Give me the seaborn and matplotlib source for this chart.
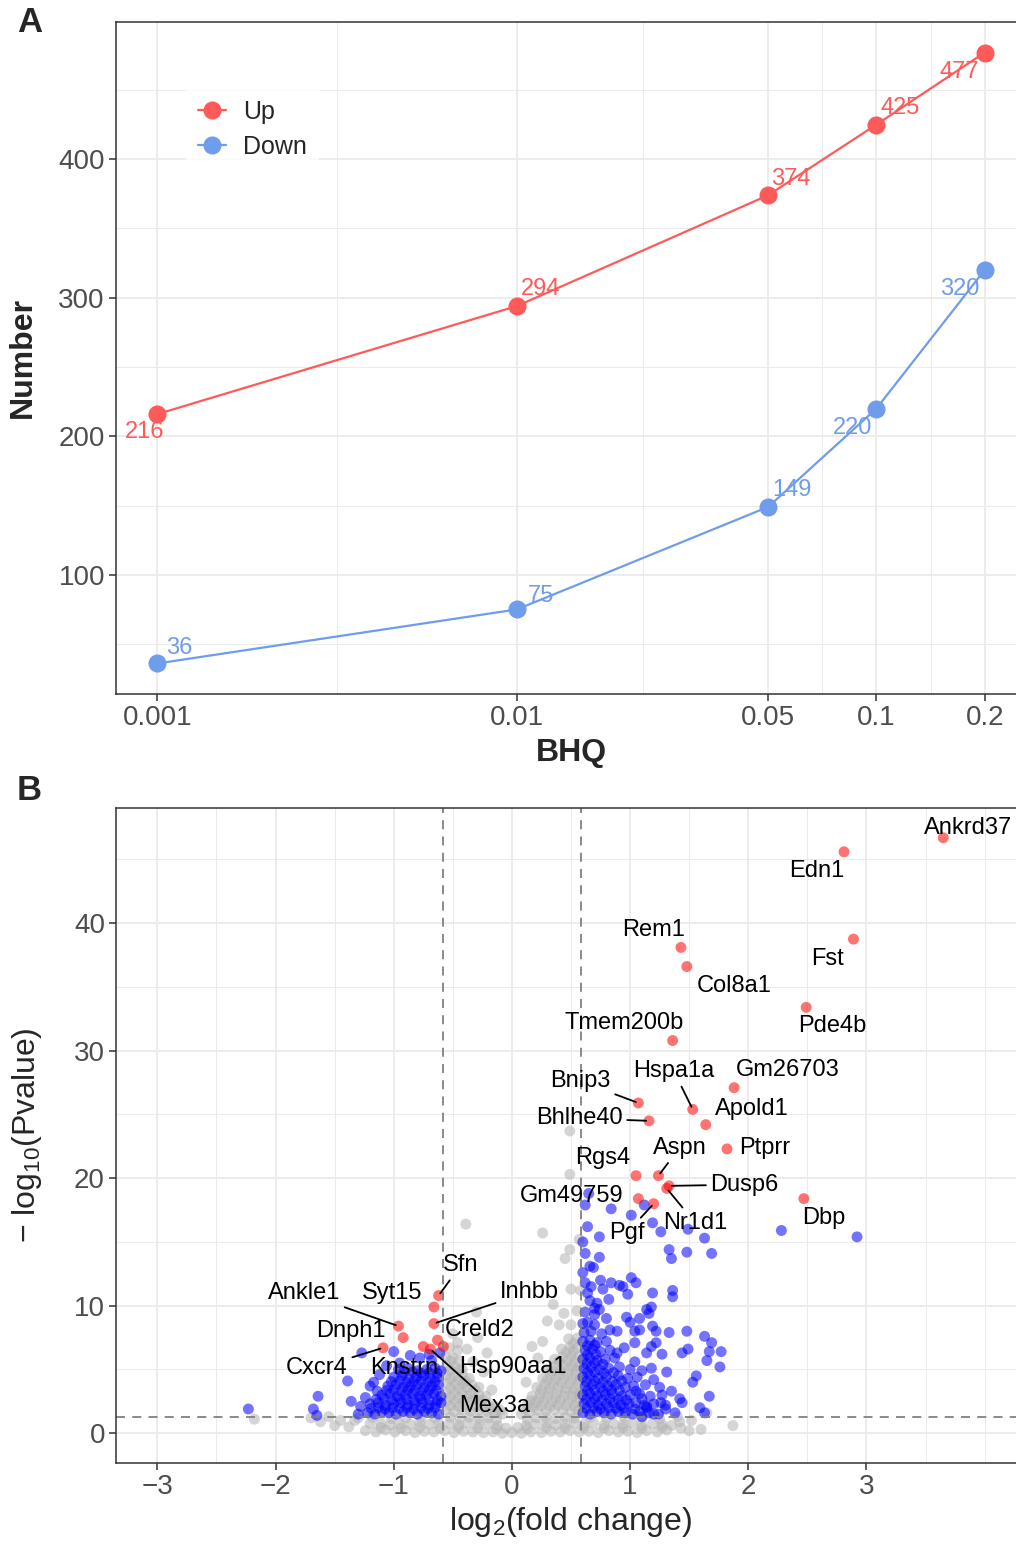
import numpy as np
import pandas as pd
import seaborn as sns
import matplotlib.pyplot as plt
from matplotlib.lines import Line2D
from matplotlib.ticker import FixedLocator, NullFormatter

# ---- panel A: number of DE genes by BHQ cutoff ----
bhq = [0.001, 0.01, 0.05, 0.1, 0.2]
n_up = [216, 294, 374, 425, 477]
n_down = [36, 75, 149, 220, 320]
bhq_ticks = ['0.001', '0.01', '0.05', '0.1', '0.2']

# ---- panel B: volcano plot ----
fc_cut = 1.5
p_cut = 0.05
x_limits = (-3, 4)

# non significant genes (grey)
grey_band = [
    (-1.24, 0.2), (-1.15, 0.1), (-1.07, 0.25), (-0.99, 0.1), (-0.90, 0.2), (-0.82, 0.05), (-0.74, 0.15), (-0.66, 0.1),
    (-0.57, 0.2), (-0.49, 0.05), (-0.41, 0.15), (-0.33, 0.1), (-0.24, 0.05), (-0.16, 0.1), (-0.08, 0.0), (0.00, 0.05),
    (0.08, 0.0), (0.16, 0.1), (0.25, 0.05), (0.33, 0.15), (0.41, 0.1), (0.49, 0.2), (0.57, 0.1), (0.65, 0.15),
    (0.73, 0.05), (0.82, 0.2), (0.90, 0.1), (0.98, 0.15), (1.06, 0.05), (1.14, 0.2), (1.23, 0.1), (1.31, 0.25),
    (-1.20, 0.75), (-1.11, 0.8), (-1.03, 0.65), (-0.95, 0.75), (-0.86, 0.7), (-0.78, 0.85), (-0.70, 0.7), (-0.62, 0.8),
    (-0.53, 0.75), (-0.45, 0.65), (-0.37, 0.8), (-0.28, 0.7), (-0.20, 0.75), (-0.12, 0.6), (-0.05, 0.4), (0.05, 0.45),
    (0.12, 0.6), (0.20, 0.7), (0.29, 0.8), (0.37, 0.65), (0.45, 0.75), (0.53, 0.8), (0.61, 0.7), (0.69, 0.8),
    (0.78, 0.65), (0.86, 0.75), (0.94, 0.7), (1.02, 0.8), (1.10, 0.65), (1.19, 0.75), (1.27, 0.7), (1.35, 0.6),
    (-1.30, 1.2), (-1.18, 1.25), (-1.02, 1.15), (-0.90, 1.2), (-0.77, 1.25), (-0.65, 1.2), (-0.52, 1.25), (-0.44, 1.2),
    (-0.36, 1.25), (-0.28, 1.15), (-0.20, 1.2), (-0.13, 1.1), (0.13, 1.1), (0.21, 1.2), (0.29, 1.25), (0.37, 1.15),
    (0.45, 1.25), (0.53, 1.2), (0.66, 1.25), (0.80, 1.2), (0.95, 1.25), (1.10, 1.2), (1.25, 1.15),
    (-1.11, 0.45), (-0.94, 0.4), (-0.78, 0.45), (-0.61, 0.4), (-0.45, 0.45), (-0.29, 0.4), (-0.13, 0.35),
    (0.13, 0.35), (0.29, 0.45), (0.45, 0.4), (0.61, 0.45), (0.78, 0.4), (0.94, 0.45), (1.10, 0.4), (1.27, 0.45),
]
grey_tail = [
    (-2.18, 1.1), (-1.70, 1.2), (-1.55, 1.3), (-1.45, 1.0), (-1.38, 0.5), (-1.50, 0.6), (-1.33, 1.0), (-1.62, 0.9),
    (1.43, 0.4), (1.52, 1.0), (1.60, 0.3), (1.65, 1.6), (1.87, 0.6), (1.50, 0.2), (1.42, 0.9), (1.40, 1.3),
]
grey_left = [
    (-0.56, 1.8), (-0.49, 1.7), (-0.42, 1.85), (-0.35, 1.75), (-0.28, 1.8), (-0.21, 1.7), (-0.14, 1.6), (-0.08, 1.5),
    (-0.55, 2.5), (-0.48, 2.45), (-0.41, 2.55), (-0.34, 2.5), (-0.27, 2.4), (-0.20, 2.3), (-0.14, 2.1),
    (-0.56, 3.2), (-0.49, 3.15), (-0.42, 3.25), (-0.35, 3.1), (-0.28, 3.0), (-0.22, 2.9),
    (-0.55, 3.9), (-0.48, 3.85), (-0.41, 3.95), (-0.34, 3.8), (-0.28, 3.6),
    (-0.56, 4.6), (-0.49, 4.5), (-0.42, 4.6), (-0.36, 4.3),
    (-0.55, 5.3), (-0.48, 5.2), (-0.42, 5.0),
    (-0.56, 6.0), (-0.50, 5.9), (-0.45, 5.7),
    (-0.53, 6.7), (-0.46, 6.5),
    (-0.52, 2.15), (-0.45, 2.1), (-0.38, 2.2), (-0.31, 2.1), (-0.24, 2.0), (-0.17, 1.9), (-0.10, 1.8),
    (-0.52, 2.85), (-0.45, 2.8), (-0.38, 2.9), (-0.31, 2.7), (-0.25, 2.6),
    (-0.52, 3.55), (-0.45, 3.5), (-0.38, 3.6), (-0.31, 3.4),
    (-0.52, 4.25), (-0.45, 4.2), (-0.39, 4.1),
    (-0.52, 4.95), (-0.45, 4.9),
    (-0.52, 5.65),
]
grey_right = [
    (0.08, 1.5), (0.15, 1.7), (0.22, 1.8), (0.29, 1.75), (0.36, 1.85), (0.43, 1.8), (0.50, 1.7), (0.56, 1.8),
    (0.13, 2.2), (0.20, 2.4), (0.27, 2.5), (0.34, 2.45), (0.41, 2.55), (0.48, 2.5), (0.55, 2.4),
    (0.17, 2.9), (0.24, 3.1), (0.31, 3.2), (0.38, 3.15), (0.45, 3.25), (0.52, 3.2), (0.57, 3.1),
    (0.21, 3.6), (0.28, 3.85), (0.35, 3.9), (0.42, 3.95), (0.49, 3.9), (0.56, 3.85),
    (0.26, 4.3), (0.33, 4.55), (0.40, 4.6), (0.47, 4.65), (0.54, 4.6),
    (0.30, 5.0), (0.37, 5.3), (0.44, 5.35), (0.51, 5.3), (0.57, 5.25),
    (0.36, 5.8), (0.43, 6.0), (0.50, 6.05), (0.56, 6.0),
    (0.42, 6.6), (0.49, 6.75), (0.55, 6.7),
    (0.48, 7.4), (0.55, 7.45),
    (0.11, 1.9), (0.18, 2.05), (0.25, 2.15), (0.32, 2.1), (0.39, 2.2), (0.46, 2.15), (0.53, 2.1),
    (0.16, 2.55), (0.23, 2.75), (0.30, 2.85), (0.37, 2.8), (0.44, 2.9), (0.51, 2.85), (0.57, 2.75),
    (0.25, 3.45), (0.32, 3.55), (0.39, 3.6), (0.46, 3.55), (0.53, 3.5),
    (0.30, 4.2), (0.37, 4.25), (0.44, 4.3), (0.51, 4.25), (0.57, 4.2),
    (0.34, 4.9), (0.41, 4.95), (0.48, 5.0), (0.55, 4.95),
    (0.40, 5.65), (0.47, 5.7), (0.53, 5.6),
    (0.46, 6.35), (0.52, 6.4),
    (0.52, 7.05),
]
grey_high = [
    (-0.46, 7.1), (-0.38, 6.6), (-0.21, 6.3), (-0.29, 7.5), (-0.30, 9.5), (-0.39, 16.4), (-0.50, 7.8), (-0.33, 5.6),
    (-0.24, 4.8), (-0.17, 3.4), (0.17, 6.8), (0.26, 7.2), (0.30, 8.8), (0.40, 8.5), (0.50, 8.5), (0.35, 10.1),
    (0.50, 11.3), (0.58, 11.2), (0.45, 13.7), (0.49, 14.4), (0.57, 15.2), (0.26, 15.7), (0.49, 20.3), (0.49, 23.7),
    (0.12, 4.0), (0.22, 5.9), (0.55, 9.6), (0.44, 9.4),
]

# significant genes (blue)
blue_right = [
    (0.60, 1.6), (0.66, 1.5), (0.72, 1.7), (0.78, 1.6), (0.84, 1.5), (0.90, 1.7), (0.96, 1.6), (1.02, 1.5), (1.08, 1.7), (1.16, 1.6), (1.24, 1.5),
    (0.61, 2.3), (0.67, 2.4), (0.73, 2.2), (0.80, 2.3), (0.86, 2.4), (0.92, 2.2), (0.99, 2.3), (1.05, 2.4), (1.12, 2.2), (1.20, 2.3), (1.30, 2.2),
    (0.60, 3.0), (0.66, 3.1), (0.72, 2.9), (0.79, 3.0), (0.85, 3.1), (0.93, 2.9), (1.00, 3.0), (1.08, 3.1), (1.17, 2.9),
    (0.62, 3.7), (0.68, 3.8), (0.75, 3.6), (0.81, 3.7), (0.88, 3.8), (0.96, 3.6), (1.03, 3.7), (1.13, 3.8),
    (0.60, 4.4), (0.66, 4.5), (0.73, 4.3), (0.80, 4.4), (0.90, 4.5), (0.98, 4.3), (1.06, 4.4),
    (0.61, 5.1), (0.67, 5.2), (0.74, 5.0), (0.82, 5.1), (0.91, 5.2), (1.00, 5.0),
    (0.60, 5.8), (0.66, 5.9), (0.72, 5.7), (0.79, 5.8), (0.87, 5.9),
    (0.62, 6.5), (0.68, 6.6), (0.75, 6.4), (0.83, 6.5),
    (0.60, 7.2), (0.66, 7.3), (0.72, 7.1), (0.80, 7.2),
    (0.61, 7.9), (0.67, 8.0), (0.76, 7.8),
    (0.60, 8.6), (0.70, 8.5),
    (0.63, 1.95), (0.69, 2.0), (0.75, 1.9), (0.82, 2.0), (0.88, 1.95), (0.95, 2.0), (1.04, 1.9), (1.14, 2.0),
    (0.63, 2.65), (0.70, 2.7), (0.76, 2.6), (0.83, 2.7), (0.90, 2.65), (0.97, 2.6), (1.10, 2.7),
    (0.64, 3.35), (0.70, 3.4), (0.77, 3.3), (0.84, 3.4), (0.91, 3.35), (1.05, 3.3),
    (0.63, 4.05), (0.70, 4.1), (0.77, 4.0), (0.85, 4.05), (0.93, 4.1),
    (0.64, 4.75), (0.70, 4.8), (0.78, 4.7), (0.86, 4.75),
    (0.63, 5.45), (0.70, 5.5), (0.77, 5.4),
    (0.64, 6.15), (0.71, 6.2),
    (0.64, 6.85), (0.70, 6.9),
]
blue_right_sparse = [
    (0.62, 17.9), (0.65, 18.8), (0.84, 17.6), (1.01, 17.1), (1.12, 17.9), (1.19, 16.5), (1.26, 15.8), (1.49, 16.0),
    (1.63, 15.3), (0.74, 15.4), (2.28, 15.9), (2.92, 15.4), (0.62, 14.1), (0.74, 13.8), (0.66, 13.1), (0.69, 13.0),
    (1.33, 14.4), (1.35, 13.7), (1.48, 14.2), (1.69, 14.1), (1.01, 12.2), (1.05, 11.8), (0.91, 11.6), (0.94, 11.5),
    (0.98, 10.9), (0.84, 11.8), (0.62, 11.8), (0.67, 11.5), (0.64, 11.0), (0.77, 11.3), (1.19, 11.0), (1.36, 11.2),
    (1.36, 10.7), (0.72, 10.2), (0.74, 9.7), (0.70, 9.8), (1.18, 9.9), (1.14, 9.7), (1.16, 9.4), (0.97, 9.1),
    (1.00, 8.7), (1.08, 9.0), (0.64, 8.7), (1.19, 8.4), (1.22, 8.0), (1.33, 7.9), (1.48, 8.0), (1.04, 8.0),
    (1.08, 8.1), (1.63, 7.6), (1.69, 7.1), (0.83, 8.1), (0.89, 8.0), (1.04, 7.1), (1.22, 7.1), (1.14, 6.3),
    (1.18, 6.8), (1.27, 6.2), (1.44, 6.3), (1.49, 6.6), (1.67, 6.4), (1.77, 6.4), (1.65, 5.7), (1.76, 5.2),
    (0.89, 6.3), (1.04, 5.6), (1.18, 5.1), (1.31, 4.8), (1.56, 4.5), (1.53, 4.0), (1.42, 2.7), (1.44, 2.4),
    (1.59, 2.0), (1.63, 1.6), (1.67, 2.9), (1.27, 3.0), (1.26, 2.4), (1.20, 1.5), (1.10, 1.3), (1.14, 2.1),
    (1.10, 4.9), (1.20, 4.2), (1.25, 3.6), (1.35, 3.3), (1.30, 1.9), (1.38, 1.6), (0.95, 6.7), (0.70, 9.3),
    (0.80, 9.0), (0.62, 9.5), (0.66, 10.4), (0.75, 12.0), (0.82, 10.5), (0.60, 12.6), (0.60, 15.0), (0.64, 16.2),
]
blue_left = [
    (-1.22, 1.6), (-1.16, 1.5), (-1.10, 1.7), (-1.04, 1.6), (-0.98, 1.5), (-0.92, 1.7), (-0.86, 1.6), (-0.80, 1.5), (-0.74, 1.7), (-0.68, 1.6), (-0.62, 1.5),
    (-1.20, 2.3), (-1.13, 2.4), (-1.07, 2.2), (-1.00, 2.3), (-0.94, 2.4), (-0.88, 2.2), (-0.82, 2.3), (-0.76, 2.4), (-0.70, 2.2), (-0.64, 2.3), (-0.60, 2.4),
    (-1.10, 3.0), (-1.03, 3.1), (-0.97, 2.9), (-0.90, 3.0), (-0.84, 3.1), (-0.78, 2.9), (-0.72, 3.0), (-0.66, 3.1), (-0.60, 2.9),
    (-1.05, 3.7), (-0.98, 3.8), (-0.92, 3.6), (-0.86, 3.7), (-0.80, 3.8), (-0.74, 3.6), (-0.68, 3.7), (-0.62, 3.8),
    (-1.00, 4.4), (-0.93, 4.5), (-0.87, 4.3), (-0.81, 4.4), (-0.75, 4.5), (-0.69, 4.3), (-0.63, 4.4),
    (-0.96, 5.0), (-0.88, 5.1), (-0.80, 4.9), (-0.72, 5.0), (-0.65, 5.1), (-0.60, 4.9),
    (-1.19, 1.95), (-1.13, 2.0), (-1.07, 1.9), (-1.01, 2.0), (-0.95, 1.95), (-0.89, 2.0), (-0.83, 1.9), (-0.77, 2.0), (-0.71, 1.95), (-0.65, 2.0),
    (-1.15, 2.65), (-1.08, 2.7), (-1.02, 2.6), (-0.95, 2.7), (-0.89, 2.65), (-0.83, 2.6), (-0.77, 2.7), (-0.70, 2.65), (-0.63, 2.6),
    (-1.06, 3.35), (-1.00, 3.4), (-0.94, 3.3), (-0.88, 3.4), (-0.82, 3.35), (-0.76, 3.3), (-0.70, 3.4), (-0.64, 3.35),
    (-1.02, 4.05), (-0.95, 4.1), (-0.89, 4.0), (-0.83, 4.05), (-0.77, 4.1), (-0.71, 4.0), (-0.65, 4.05),
    (-0.92, 4.75), (-0.84, 4.8), (-0.77, 4.7), (-0.70, 4.75), (-0.63, 4.7),
]
blue_left_sparse = [
    (-2.23, 1.9), (-1.68, 1.9), (-1.65, 1.4), (-1.64, 2.9), (-1.39, 4.1), (-1.36, 2.5), (-1.27, 6.3), (-1.00, 6.4),
    (-0.86, 6.1), (-0.78, 5.9), (-0.61, 6.3), (-1.17, 4.0), (-1.14, 3.3), (-1.20, 3.7), (-1.24, 2.8), (-1.28, 2.1),
    (-0.95, 5.5), (-1.30, 1.5), (-1.12, 4.6), (-1.06, 5.3), (-0.68, 5.7), (-0.70, 6.2),
]

# top genes (red, labelled)
genes = ['Ankrd37', 'Edn1', 'Fst', 'Rem1', 'Col8a1', 'Pde4b', 'Tmem200b', 'Gm26703', 'Bnip3', 'Hspa1a',
         'Bhlhe40', 'Apold1', 'Ptprr', 'Rgs4', 'Aspn', 'Dusp6', 'Gm49759', 'Pgf', 'Nr1d1', 'Dbp',
         'Sfn', 'Syt15', 'Ankle1', 'Inhbb', 'Creld2', 'Dnph1', 'Cxcr4', 'Knstrn', 'Hsp90aa1', 'Mex3a']
gene_lfc = [3.65, 2.81, 2.89, 1.43, 1.48, 2.49, 1.36, 1.88, 1.07, 1.53,
            1.16, 1.64, 1.82, 1.05, 1.24, 1.33, 1.07, 1.20, 1.31, 2.47,
            -0.62, -0.66, -0.96, -0.66, -0.58, -0.92, -1.09, -0.75, -0.63, -0.69]
gene_logp = [46.7, 45.6, 38.75, 38.1, 36.6, 33.4, 30.8, 27.1, 25.9, 25.4,
             24.5, 24.2, 22.3, 20.2, 20.2, 19.4, 18.4, 18.0, 19.2, 18.4,
             10.8, 9.9, 8.4, 8.6, 6.8, 7.5, 6.7, 6.8, 7.3, 6.6]

# where the repelled labels ended up (layout only)
label_pos = [(3.86, 47.5), (2.58, 44.1), (2.67, 37.2), (1.20, 39.5), (1.88, 35.1), (2.71, 31.9), (0.95, 32.2),
             (2.33, 28.5), (0.58, 27.6), (1.37, 28.4), (0.57, 24.7), (2.03, 25.4), (2.14, 22.4), (0.77, 21.6),
             (1.42, 22.4), (1.97, 19.5), (0.51, 18.6), (0.97, 15.7), (1.55, 16.5), (2.64, 16.9), (-0.43, 13.2),
             (-1.01, 11.0), (-1.76, 11.0), (0.15, 11.1), (-0.27, 8.1), (-1.36, 8.0), (-1.65, 5.1), (-0.91, 5.1),
             (0.01, 5.2), (-0.15, 2.1)]
with_segment = ['Bnip3', 'Hspa1a', 'Bhlhe40', 'Aspn', 'Dusp6', 'Pgf', 'Nr1d1',
                'Sfn', 'Ankle1', 'Inhbb', 'Cxcr4', 'Mex3a']

# 스타일 -------------------------
sns.set_theme(style='ticks')
plt.rcParams['font.family'] = ['Liberation Sans', 'DejaVu Sans']
plt.rcParams['mathtext.fontset'] = 'custom'
plt.rcParams['mathtext.rm'] = 'Liberation Sans'
plt.rcParams['mathtext.default'] = 'regular'
plt.rcParams['axes.unicode_minus'] = True

col_up = '#FF5A5A'
col_down = '#6F9CEB'
grid_col = '#EBEBEB'
border_col = '#333333'
tick_col = '#4D4D4D'

fig = plt.figure(figsize=(10.16, 15.45), dpi=100)
axA = fig.add_axes([116 / 1016, 1 - 694 / 1545, 910 / 1016, 672 / 1545])
axB = fig.add_axes([116 / 1016, 1 - 1463 / 1545, 910 / 1016, 655 / 1545])


def style_axes(ax):
    ax.set_axisbelow(True)
    ax.grid(which='major', color=grid_col, lw=1.3)
    ax.grid(which='minor', color=grid_col, lw=0.7)
    for s in ax.spines.values():
        s.set_color(border_col)
        s.set_linewidth(1.1)
    ax.tick_params(which='major', length=5, width=1.1, color=border_col,
                   labelsize=20, labelcolor=tick_col, pad=3)
    ax.tick_params(which='minor', length=0)


# ---- A ----
df_a = pd.DataFrame({
    'BHQ': bhq * 2,
    'Number': n_up + n_down,
    'Direction': ['Up'] * len(bhq) + ['Down'] * len(bhq),
})
sns.lineplot(data=df_a, x='BHQ', y='Number', hue='Direction',
             palette={'Up': col_up, 'Down': col_down}, marker='o', markersize=13,
             markeredgewidth=0, linewidth=1.6, legend=False, ax=axA)
axA.set_xscale('log')
lo, hi = np.log10(min(bhq)), np.log10(max(bhq))
pad = (hi - lo) * 0.05
axA.set_xlim(10 ** (lo - pad), 10 ** (hi + pad))
ypad = (max(n_up) - min(n_down)) * 0.05
axA.set_ylim(min(n_down) - ypad, max(n_up) + ypad)

axA.xaxis.set_major_locator(FixedLocator(bhq))
axA.set_xticklabels(bhq_ticks)
mids = [np.sqrt(a * b) for a, b in zip(bhq[:-1], bhq[1:])]
axA.xaxis.set_minor_locator(FixedLocator(mids))
axA.xaxis.set_minor_formatter(NullFormatter())
axA.yaxis.set_major_locator(FixedLocator([100, 200, 300, 400]))
axA.yaxis.set_minor_locator(FixedLocator([50, 150, 250, 350, 450]))
style_axes(axA)

# 점 옆 숫자
offs_up = [(-9, -13), (17, 12), (16, 12), (17, 12), (-18, -14)]
offs_down = [(16, 11), (17, 10), (17, 12), (-17, -14), (-18, -14)]
for xs, ys, offs, c in [(bhq, n_up, offs_up, col_up), (bhq, n_down, offs_down, col_down)]:
    for x, y, o in zip(xs, ys, offs):
        axA.annotate(str(y), xy=(x, y), xytext=o, textcoords='offset points',
                     ha='center', va='center', color=c, fontsize=17)

handles = [Line2D([], [], color=col_up, marker='o', markersize=13, mew=0, lw=1.6),
           Line2D([], [], color=col_down, marker='o', markersize=13, mew=0, lw=1.6)]
leg = axA.legend(handles, ['Up', 'Down'], loc='center', bbox_to_anchor=(0.15, 0.84),
                 fontsize=18, frameon=True, handlelength=1.1, handletextpad=0.7,
                 labelspacing=0.45, borderpad=0.5, fancybox=False)
leg.get_frame().set_facecolor('white')
leg.get_frame().set_edgecolor('none')

axA.set_xlabel('BHQ', fontsize=23, fontweight='bold')
axA.set_ylabel('Number', fontsize=23, fontweight='bold')
axA.xaxis.set_label_coords(0.5, -0.065)
axA.yaxis.set_label_coords(-0.086, 0.5)

# ---- B ----
grey_pts = grey_band + grey_tail + grey_left + grey_right + grey_high
blue_pts = blue_right + blue_right_sparse + blue_left + blue_left_sparse
df_b = pd.DataFrame({
    'lfc': [p[0] for p in grey_pts] + [p[0] for p in blue_pts] + gene_lfc,
    'logp': [p[1] for p in grey_pts] + [p[1] for p in blue_pts] + gene_logp,
    'group': ['ns'] * len(grey_pts) + ['sig'] * len(blue_pts) + ['top'] * len(genes),
})
sns.scatterplot(data=df_b, x='lfc', y='logp', hue='group',
                palette={'ns': '#B3B3B3', 'sig': '#0000FF', 'top': '#FF0000'},
                s=62, alpha=0.55, linewidth=0, legend=False, ax=axB)

xpad = (x_limits[1] - x_limits[0]) * 0.05
axB.set_xlim(x_limits[0] - xpad, x_limits[1] + xpad)
ypadB = (max(gene_logp) - 0) * 0.05
axB.set_ylim(0 - ypadB, max(gene_logp) + ypadB)

axB.axvline(-np.log2(fc_cut), color='#808080', lw=1.3, ls=(0, (5, 4)), zorder=1.5)
axB.axvline(np.log2(fc_cut), color='#808080', lw=1.3, ls=(0, (5, 4)), zorder=1.5)
axB.axhline(-np.log10(p_cut), color='#808080', lw=1.3, ls=(0, (5, 4)), zorder=1.5)

axB.xaxis.set_major_locator(FixedLocator([-3, -2, -1, 0, 1, 2, 3]))
axB.xaxis.set_minor_locator(FixedLocator([-2.5, -1.5, -0.5, 0.5, 1.5, 2.5, 3.5, 4]))
axB.yaxis.set_major_locator(FixedLocator([0, 10, 20, 30, 40]))
axB.yaxis.set_minor_locator(FixedLocator([5, 15, 25, 35, 45]))
style_axes(axB)

for name, gx, gy, (lx, ly) in zip(genes, gene_lfc, gene_logp, label_pos):
    if name in with_segment:
        axB.annotate(name, xy=(gx, gy), xytext=(lx, ly), textcoords='data',
                     ha='center', va='center', fontsize=17, color='black',
                     arrowprops=dict(arrowstyle='-', color='black', lw=1.3,
                                     shrinkA=1, shrinkB=2))
    else:
        axB.text(lx, ly, name, ha='center', va='center', fontsize=17, color='black')

axB.set_xlabel('log$_{2}$(fold change)', fontsize=23)
axB.set_ylabel('− log$_{10}$(Pvalue)', fontsize=23)
axB.xaxis.set_label_coords(0.5, -0.064)
axB.yaxis.set_label_coords(-0.079, 0.5)

fig.text(17 / 1016, 1 - 22 / 1545, 'A', fontsize=25, fontweight='bold', ha='left', va='center')
fig.text(17 / 1016, 1 - 790 / 1545, 'B', fontsize=25, fontweight='bold', ha='left', va='center')

fig.savefig('out.png', dpi=100)
